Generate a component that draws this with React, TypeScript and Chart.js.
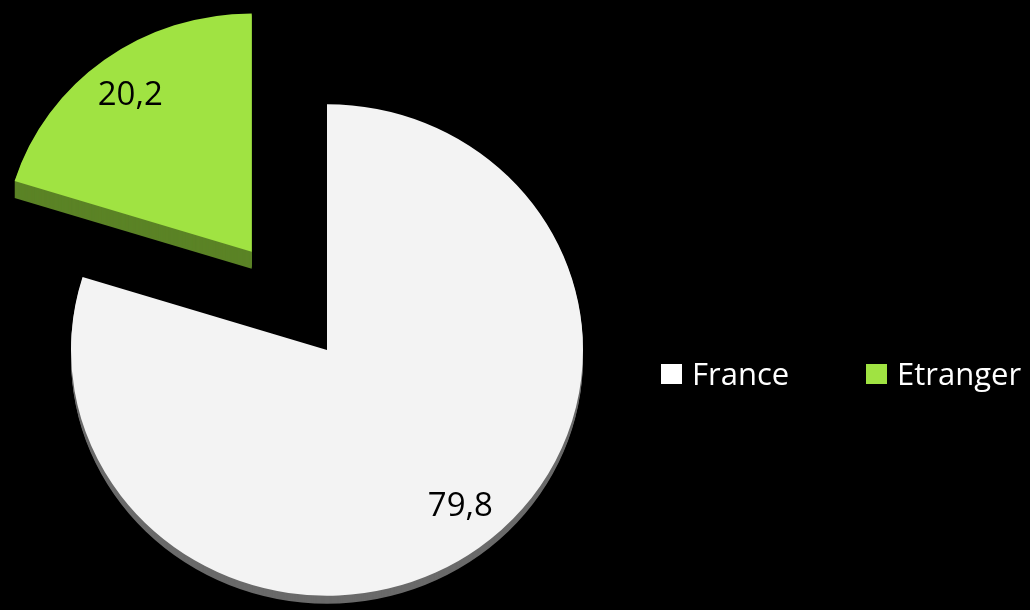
import React, { useEffect, useRef } from "react";
import { Chart, registerables } from "chart.js";

Chart.register(...registerables);

// ---- data ----
const categories = ["France", "Etranger"];
const values = [79.8, 20.2];

// ---- styles ----
const topColors = ["#f3f3f3", "#a0e342"];
const legendColors = ["#ffffff", "#a0e342"];
const sideColors = ["#6a6a6a", "#5b8326"];
const explodeDistance = [0, 127];
const sliceScale = [1, 0.97];
const depthPx = [8, 17];
const labelNudge = [[12, -2], [0, 2]];
const SQUISH = 0.96;
const LABEL_RADIUS = 0.8;

function formatValue(v: number): string {
  return v.toFixed(1).replace(".", ",");
}

function arcGeom(arc: any, i: number) {
  const p = arc.getProps(["x", "y", "startAngle", "endAngle", "outerRadius"], true);
  const mid = (p.startAngle + p.endAngle) / 2;
  const ex = Math.cos(mid) * explodeDistance[i];
  const ey = Math.sin(mid) * explodeDistance[i];
  return { ...p, mid, ex, ey };
}

const pie3dPlugin = {
  id: "pie3d",
  beforeDatasetDraw(chart: any, args: any) {
    const ctx = chart.ctx as CanvasRenderingContext2D;
    const meta = args.meta;
    meta.data.forEach((arc: any, i: number) => {
      const g = arcGeom(arc, i);
      const s = sliceScale[i];
      const setup = (dy: number) => {
        ctx.translate(0, dy);
        ctx.translate(g.x, g.y);
        ctx.scale(1, SQUISH);
        ctx.translate(g.ex, g.ey);
        ctx.scale(s, s);
        ctx.translate(-g.x, -g.y);
      };
      for (let d = depthPx[i]; d >= 1; d--) {
        ctx.save();
        setup(d);
        ctx.beginPath();
        ctx.moveTo(g.x, g.y);
        ctx.arc(g.x, g.y, g.outerRadius, g.startAngle, g.endAngle);
        ctx.closePath();
        ctx.fillStyle = sideColors[i];
        ctx.fill();
        ctx.restore();
      }
      ctx.save();
      setup(0);
      arc.draw(ctx, chart.chartArea);
      ctx.restore();
    });
    return false;
  },
  afterDatasetsDraw(chart: any) {
    const ctx = chart.ctx as CanvasRenderingContext2D;
    const meta = chart.getDatasetMeta(0);
    const data = chart.data.datasets[0].data as number[];
    ctx.save();
    ctx.font = "33px 'Open Sans'";
    ctx.fillStyle = "#000000";
    ctx.textAlign = "center";
    ctx.textBaseline = "middle";
    meta.data.forEach((arc: any, i: number) => {
      const g = arcGeom(arc, i);
      const dist = explodeDistance[i] + g.outerRadius * LABEL_RADIUS;
      const ux = g.x + Math.cos(g.mid) * dist + labelNudge[i][0];
      const uy = g.y + Math.sin(g.mid) * dist * SQUISH + labelNudge[i][1];
      ctx.fillText(formatValue(data[i]), ux, uy);
    });
    ctx.restore();
  },
  afterDraw(chart: any) {
    const ctx = chart.ctx as CanvasRenderingContext2D;
    const labels = chart.data.labels as string[];
    ctx.save();
    ctx.font = "31px 'Open Sans'";
    ctx.textBaseline = "alphabetic";
    ctx.textAlign = "left";
    labels.forEach((lab, i) => {
      const x = 661 + i * 205;
      ctx.fillStyle = legendColors[i];
      ctx.fillRect(x, 364, 21, 20);
      ctx.fillStyle = "#ffffff";
      ctx.fillText(lab, x + 31, 385);
    });
    ctx.restore();
  },
};

export default function App() {
  const ref = useRef<HTMLCanvasElement | null>(null);
  useEffect(() => {
    if (!ref.current) return;
    const chart = new Chart(ref.current, {
      type: "pie",
      data: {
        labels: categories,
        datasets: [
          {
            data: values,
            backgroundColor: topColors,
            borderWidth: 0,
          },
        ],
      },
      options: {
        animation: false,
        responsive: true,
        maintainAspectRatio: false,
        radius: 256,
        layout: { padding: { left: 0, right: 376, top: 90, bottom: 0 } },
        plugins: {
          legend: { display: false },
          tooltip: { enabled: false },
        },
      },
      plugins: [pie3dPlugin],
    });
    return () => chart.destroy();
  }, []);
  return (
    <div
      style={{
        position: "fixed",
        left: 0,
        top: 0,
        width: 1030,
        height: 610,
        background: "#000000",
      }}
    >
      <canvas ref={ref} />
    </div>
  );
}
